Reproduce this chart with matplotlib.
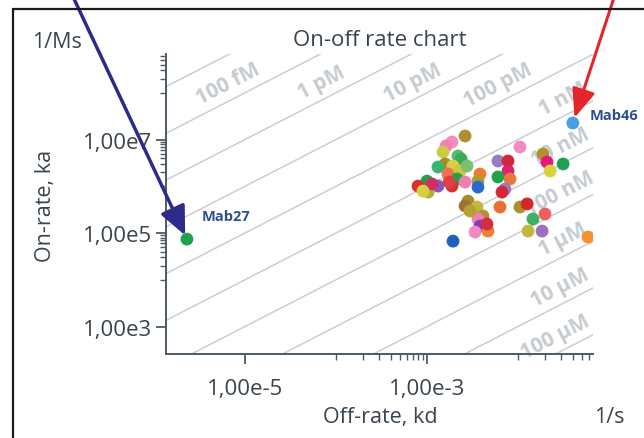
import numpy as np
import matplotlib
matplotlib.use("Agg")
import matplotlib.pyplot as plt
from matplotlib.ticker import FixedLocator, NullFormatter
from matplotlib.patches import Rectangle

plt.rcParams['font.family'] = ['Open Sans', 'DejaVu Sans']

# ---------------- data ----------------
kd_vals = [2.62e-3, 1.88e-3, 1.62e-3, 1.50e-3, 2.19e-3, 2.37e-3, 1.58e-3, 1.32e-3, 1.93e-3, 1.70e-3,
           2.31e-3, 3.82e-3, 2.14e-3, 2.62e-3, 3.63e-3, 3.63e-3, 1.88e-3, 1.00e-3, 1.32e-3, 7.96e-4,
           1.03e-3, 2.82e-3, 2.62e-3, 3.54e-3, 4.12e-3, 3.63e-3, 3.82e-3, 3.37e-3, 4.68e-3, 1.93e-3,
           1.05e-2, 6.02e-3, 7.76e-3, 1.88e-2, 2.08e-2, 2.25e-2, 3.13e-2, 7.76e-3, 6.02e-3, 8.17e-3,
           7.19e-3, 6.67e-3, 6.34e-3, 1.05e-2, 1.26e-2, 1.46e-2, 1.98e-2, 1.29e-2, 1.84e-2, 5.88e-2,
           2.75e-3, 1.75e-3, 1.13e-3, 9.04e-4, 2.97e-3, 4.56e-3]
ka_vals = [1.19e7, 8.85e6, 7.26e6, 5.41e6, 4.44e6, 3.83e6, 3.00e6, 2.58e6, 2.71e6, 1.83e6,
           2.12e6, 1.83e6, 1.43e6, 1.23e6, 1.29e6, 9.6e5, 1.01e6, 1.29e6, 1.01e6, 1.01e6,
           7.5e5, 4.8e5, 3.8e5, 3.6e5, 2.31e5, 2.0e5, 1.41e5, 1.05e5, 1.10e5, 6.7e4,
           6.92e6, 3.47e6, 3.47e6, 4.90e6, 3.30e6, 2.12e6, 3.00e6, 2.12e6, 1.58e6, 1.43e6,
           8.7e5, 7.5e5, 3.6e5, 3.6e5, 4.2e5, 2.0e5, 2.55e5, 1.10e5, 1.10e5, 8.2e4,
           2.71e6, 1.23e6, 1.12e6, 7.9e5, 2.96e5, 1.56e5]
point_colors = ['#b08d2e', '#ef8fc0', '#f27fb5', '#c9cc3f', '#52be6e', '#3aaa58', '#a88a2a', '#3cb371', '#d8d040', '#f07050',
                '#cfc840', '#ee7d32', '#1fa34a', '#f080b0', '#b09a30', '#2a6ad0', '#d63030', '#1fa34a', '#8855bb', '#d63030',
                '#b8b030', '#a88a2a', '#a07030', '#c0b840', '#b09030', '#f080b0', '#8040b0', '#f08ac0', '#f08030', '#1f5fbf',
                '#f08cbf', '#9a7ac0', '#d02a3a', '#b09030', '#e6187a', '#d8d040', '#20a050', '#e02070', '#1fa34a', '#e87840',
                '#9a7ac0', '#d62738', '#e87030', '#a89030', '#d62728', '#40b060', '#f06060', '#c0b840', '#a070c0', '#f59030',
                '#7cc070', '#e04040', '#d03060', '#d8d040', '#b8a030', '#d03040']

mab27 = (2.3e-6, 7.4e4)
mab46 = (4.0e-2, 2.25e7)

kd_lines = [1e-14, 1e-13, 1e-12, 1e-11, 1e-10, 1e-9, 1e-8, 1e-7, 1e-6, 1e-5, 1e-4]
kd_labels = ['', '100 fM', '1 pM', '10 pM', '100 pM', '1 nM', '10 nM', '100 nM', '1 µM', '10 µM', '100 µM']
label_x = [None, 6.5e-6, 7.0e-5, 7.0e-4, 6.0e-3, 3.13e-2, 2.9e-2, 2.9e-2, 3.13e-2, 2.9e-2, 2.55e-2]

x_ticks = [1e-5, 1e-3]
x_ticklabels = ['1,00e-5', '1,00e-3']
y_ticks = [1e3, 1e5, 1e7]
y_ticklabels = ['1,00e3', '1,00e5', '1,00e7']

# ---------------- figure ----------------
W, H = 644, 439
fig = plt.figure(figsize=(W / 100, H / 100), dpi=100)
ax = fig.add_axes([166 / W, 1 - 355 / H, (593 - 166) / W, (355 - 55) / H])
ax.set_xscale('log')
ax.set_yscale('log')
ax.set_xlim(10 ** -5.868, 10 ** -1.176)
ax.set_ylim(10 ** 2.412, 10 ** 8.829)

for s in ['top', 'right']:
    ax.spines[s].set_visible(False)
for s in ['left', 'bottom']:
    ax.spines[s].set_color('#4d5a66')
    ax.spines[s].set_linewidth(1.4)

ax.set_xticks(x_ticks, x_ticklabels)
ax.set_yticks(y_ticks, y_ticklabels)
xmin = [m * 10.0 ** d for d in (-4, -2) for m in range(1, 10)]
ymin = [m * 10.0 ** d for d in (4, 6, 8) for m in range(1, 10)]
ax.xaxis.set_minor_locator(FixedLocator(xmin))
ax.yaxis.set_minor_locator(FixedLocator(ymin))
ax.xaxis.set_minor_formatter(NullFormatter())
ax.yaxis.set_minor_formatter(NullFormatter())
ax.tick_params(which='major', length=7, width=1.3, color='#4d5a66', labelsize=16,
               labelcolor='#3a444e')
ax.tick_params(axis='x', which='major', pad=10)
ax.tick_params(axis='y', which='major', pad=3)
ax.tick_params(which='minor', length=4, width=1.0, color='#4d5a66')

# iso-affinity lines
xl = np.array(ax.get_xlim())
for KD in kd_lines:
    ax.plot(xl, xl / KD, color='#c9ced3', lw=1.1, zorder=1)

fig.canvas.draw()
p1 = ax.transData.transform((1e-5, 1e5))
p2 = ax.transData.transform((1e-3, 1e7))
angle = np.degrees(np.arctan2(p2[1] - p1[1], p2[0] - p1[0]))

for KD, lab, lx in zip(kd_lines, kd_labels, label_x):
    if not lab:
        continue
    ax.annotate(lab, (lx, lx / KD), xytext=(0, 18), textcoords='offset pixels',
                rotation=angle, rotation_mode='anchor', ha='center', va='center',
                color='#c6cbd0', fontsize=15, fontweight='bold', zorder=2)

ax.scatter(kd_vals, ka_vals, s=85, c=point_colors, edgecolors='none', zorder=3)
ax.scatter([mab27[0]], [mab27[1]], s=85, c='#1fa34a', edgecolors='none', zorder=4)
ax.scatter([mab46[0]], [mab46[1]], s=85, c='#4a9fe0', edgecolors='none', zorder=4)

ax.annotate('Mab27', mab27, xytext=(15, 23), textcoords='offset pixels', ha='left', va='center',
            color='#2d4f8e', fontsize=10.5, fontweight='bold', zorder=5)
ax.annotate('Mab46', mab46, xytext=(17, 8), textcoords='offset pixels', ha='left', va='center',
            color='#2d4f8e', fontsize=10.5, fontweight='bold', zorder=5, annotation_clip=False)

# arrows
ax.annotate('', xy=mab27, xytext=(72 / W, 1.01), textcoords='figure fraction',
            arrowprops=dict(arrowstyle='-|>,head_length=1.1,head_width=0.5', lw=2.5,
                            color='#2d2a8c', shrinkA=0, shrinkB=3, mutation_scale=16),
            annotation_clip=False, zorder=6)
ax.annotate('', xy=mab46, xytext=(615 / W, 1.01), textcoords='figure fraction',
            arrowprops=dict(arrowstyle='-|>,head_length=1.1,head_width=0.45', lw=2.2,
                            color='#e3262b', shrinkA=0, shrinkB=4, mutation_scale=16),
            annotation_clip=False, zorder=6)

# texts
tc = '#3a444e'
fig.text(57 / W, 1 - 42 / H, '1/Ms', ha='center', va='center', fontsize=15.5, color=tc)
fig.text(380 / W, 1 - 41 / H, 'On-off rate chart', ha='center', va='center', fontsize=16, color=tc)
fig.text(46 / W, 1 - 206 / H, 'On-rate, ka', ha='center', va='center', rotation=90, fontsize=15.5, color=tc)
fig.text(380 / W, 1 - 418 / H, 'Off-rate, kd', ha='center', va='center', fontsize=15.5, color=tc)
fig.text(609 / W, 1 - 418 / H, '1/s', ha='center', va='center', fontsize=15.5, color=tc)

# outer frame
fig.patches.append(Rectangle((13 / W, -0.2), 1.3, 1 - 10 / H + 0.2, transform=fig.transFigure,
                             fill=False, lw=1.6, ec='#1a1a1a'))

fig.savefig('out.png', dpi=100)
